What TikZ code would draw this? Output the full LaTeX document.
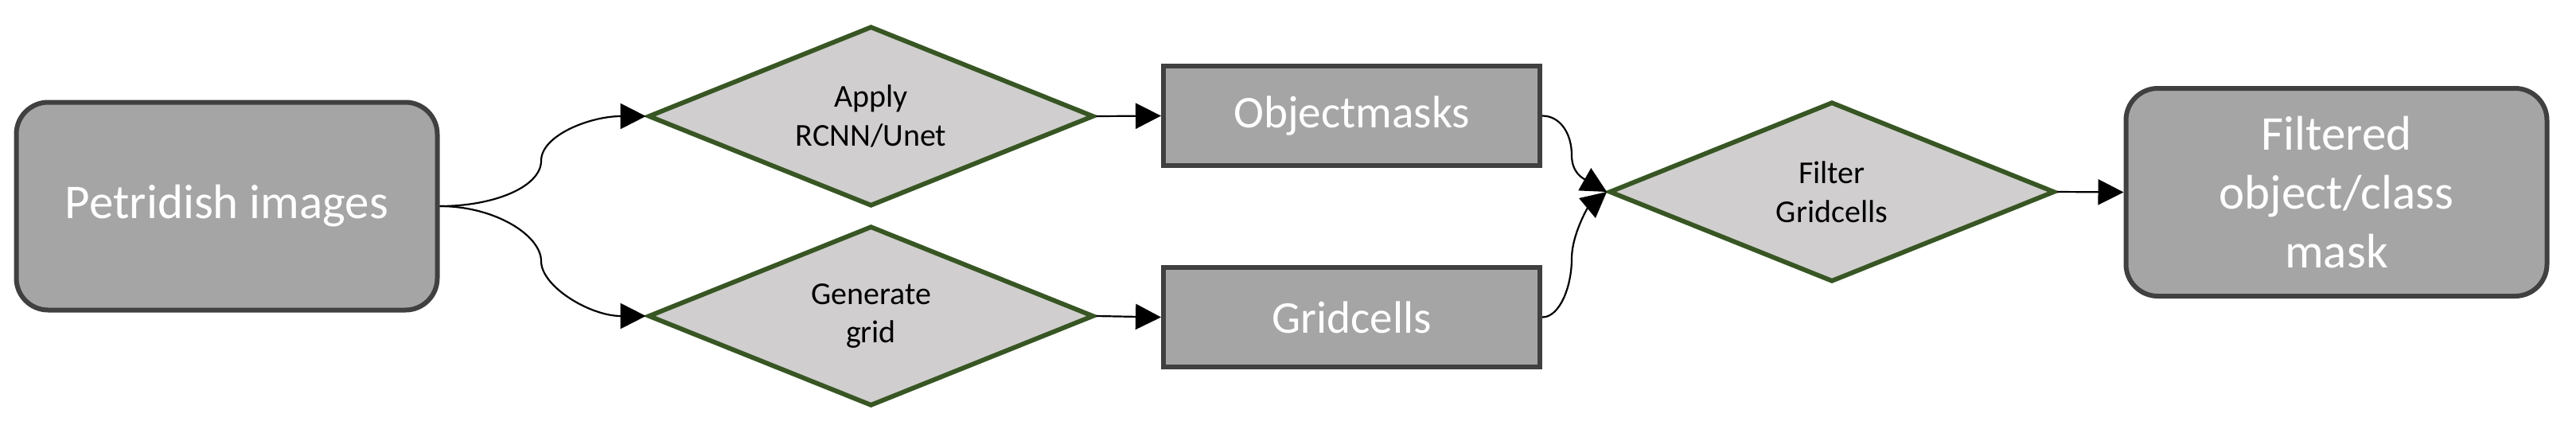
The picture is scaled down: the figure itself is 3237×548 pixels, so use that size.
\documentclass[tikz,border=0pt]{standalone}
\usepackage{fontspec}
\setmainfont{Carlito}
\usetikzlibrary{shapes.geometric,arrows.meta}
\definecolor{boxfill}{HTML}{A5A5A5}
\definecolor{boxline}{HTML}{404040}
\definecolor{dfill}{HTML}{D0CECE}
\definecolor{dline}{HTML}{375623}
\begin{document}
\begin{tikzpicture}[x=0.25pt,y=-0.25pt,
  roundbox/.style={draw=boxline, fill=boxfill, line width=1.5pt, rounded corners=10pt,
    minimum width=132.25pt, minimum height=65.25pt, inner sep=0pt, text=white, align=center,
    font=\fontsize{15.25pt}{18.6pt}\selectfont},
  rectbox/.style={draw=boxline, fill=boxfill, line width=1.5pt,
    minimum width=118.25pt, minimum height=31.25pt, inner sep=0pt, text=white,
    font=\fontsize{14.3pt}{17.4pt}\selectfont},
  decision/.style={diamond, aspect=2.47, draw=dline, fill=dfill, line width=1.45pt,
    minimum width=140pt, minimum height=56.5pt, inner sep=0pt, align=center, text=black,
    font=\fontsize{10pt}{12.2pt}\selectfont},
  conn/.style={draw=black, line width=0.55pt, -{Triangle[length=8pt,width=8pt]}}]
\useasboundingbox[fill=white] (0,0) rectangle (3237,548);

\node[roundbox] (pi) at (285,259) {Petridish images};
\node[decision] (d1) at (1094.5,146) {Apply\\RCNN/Unet};
\node[decision] (d2) at (1094.5,397) {Generate\\grid};
\node[rectbox] (om) at (1698.5,145.5) {Objectmasks};
\node[rectbox] (gc) at (1698.5,398.5) {Gridcells};
\node[decision] (d3) at (2302,241) {Filter\\Gridcells};
\node[roundbox] (fm) at (2936,241.5) {Filtered\\object/class\\mask};

\coordinate (m1) at (680,202);
\coordinate (m2) at (680,328);
\coordinate (m3) at (1975,195);
\coordinate (m4) at (1975,325);

\draw[conn] (pi.east) .. controls +(70,0) and +(0,32) .. (m1) .. controls +(0,-32) and +(-70,0) .. (d1.west);
\draw[conn] (pi.east) .. controls +(70,0) and +(0,-32) .. (m2) .. controls +(0,32) and +(-70,0) .. (d2.west);
\draw[conn] (om.east) .. controls +(22,0) and +(0,-28) .. (m3) .. controls +(0,22) and +(-30,-17) .. (d3.west);
\draw[conn] (gc.east) .. controls +(22,0) and +(0,35) .. (m4) .. controls +(0,-30) and +(-24,20) .. (d3.west);
\draw[conn] (d1.east) -- (om.west);
\draw[conn] (d2.east) -- (gc.west);
\draw[conn] (d3.east) -- (fm.west);
\end{tikzpicture}
\end{document}
